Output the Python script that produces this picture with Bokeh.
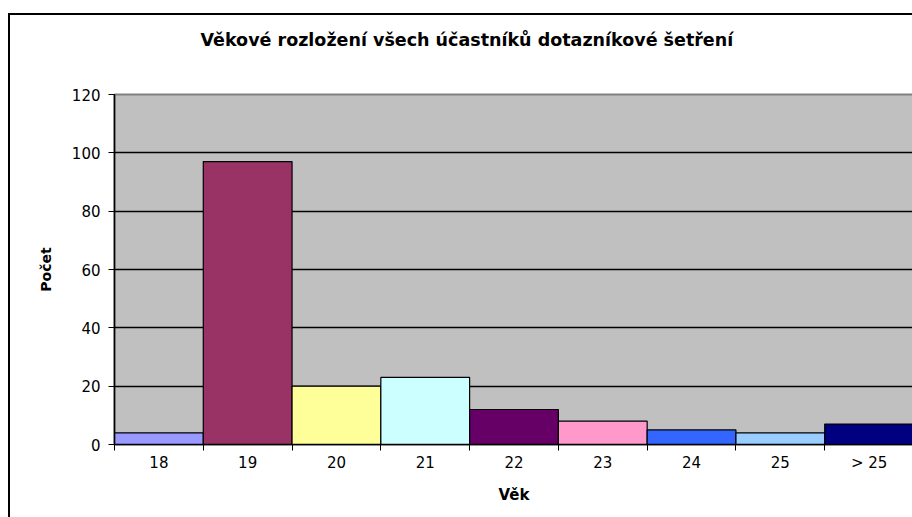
from bokeh.plotting import figure
from bokeh.models import FixedTicker, Title, ColumnDataSource
from bokeh.embed import file_html
from bokeh.resources import INLINE

title_text = "Věkové rozložení všech účastníků dotazníkové šetření"
x_title = "Věk"
y_title = "Počet"
categories = ["18", "19", "20", "21", "22", "23", "24", "25", "> 25"]
counts = [4, 97, 20, 23, 12, 8, 5, 4, 7]
colors = ["#9999FF", "#993366", "#FFFF99", "#CCFFFF", "#660066",
          "#FF99CC", "#3366FF", "#99CCFF", "#000080"]
y_ticks = [0, 20, 40, 60, 80, 100, 120]

n = len(categories)
idx = list(range(n))
centers = [i + 0.5 for i in idx]
src = ColumnDataSource(dict(x=centers, top=counts, color=colors))

FONT = "DejaVu Sans"

p = figure(width=904, height=504, x_range=(0, n), y_range=(0, 120),
           output_backend="svg", toolbar_location=None,
           min_border_left=104, min_border_top=79, min_border_right=1,
           min_border_bottom=75, background_fill_color="#C0C0C0",
           border_fill_color="white")
p.margin = (13, 0, 0, 8)
p.styles = {"border-left": "2px solid black", "border-top": "2px solid black"}

p.vbar(x="x", top="top", width=1.0, bottom=0, fill_color="color",
       line_color="black", line_width=1.2, source=src)

spacer = Title(text=" ", text_font_size="1px", standoff=42)
p.add_layout(spacer, "above")
t = Title(text=title_text, align="left", offset=86, text_font=FONT,
          text_font_size="17.5px", text_font_style="bold", text_color="black",
          standoff=0)
p.add_layout(t, "above")

p.outline_line_color = "#808080"
p.outline_line_width = 2

p.xgrid.grid_line_color = None
p.ygrid.grid_line_color = "black"
p.ygrid.grid_line_width = 1.5
p.ygrid.ticker = FixedTicker(ticks=y_ticks)

xa = p.xaxis[0]
xa.ticker = FixedTicker(ticks=centers, minor_ticks=[float(i) for i in range(n + 1)])
xa.major_label_overrides = {c: lab for c, lab in zip(centers, categories)}
xa.major_tick_line_color = None
xa.minor_tick_line_color = "black"
xa.minor_tick_out = 6
xa.minor_tick_in = 0
xa.axis_line_color = "black"
xa.axis_line_width = 1.5
xa.major_label_text_font = FONT
xa.major_label_text_font_size = "15px"
xa.major_label_text_color = "black"
xa.major_label_standoff = 3
xa.axis_label = x_title
xa.axis_label_text_font = FONT
xa.axis_label_text_font_size = "15px"
xa.axis_label_text_font_style = "bold"
xa.axis_label_text_color = "black"
xa.axis_label_standoff = 11

ya = p.yaxis[0]
ya.ticker = FixedTicker(ticks=y_ticks)
ya.major_tick_out = 6
ya.major_tick_in = 0
ya.minor_tick_line_color = None
ya.axis_line_color = "black"
ya.axis_line_width = 1.5
ya.major_label_text_font = FONT
ya.major_label_text_font_size = "15px"
ya.major_label_text_color = "black"
ya.major_label_standoff = 8
ya.axis_label = y_title
ya.axis_label_text_font = FONT
ya.axis_label_text_font_size = "14px"
ya.axis_label_text_font_style = "bold"
ya.axis_label_text_color = "black"
ya.axis_label_standoff = 15

open("out.html", "w").write(file_html(p, INLINE))
